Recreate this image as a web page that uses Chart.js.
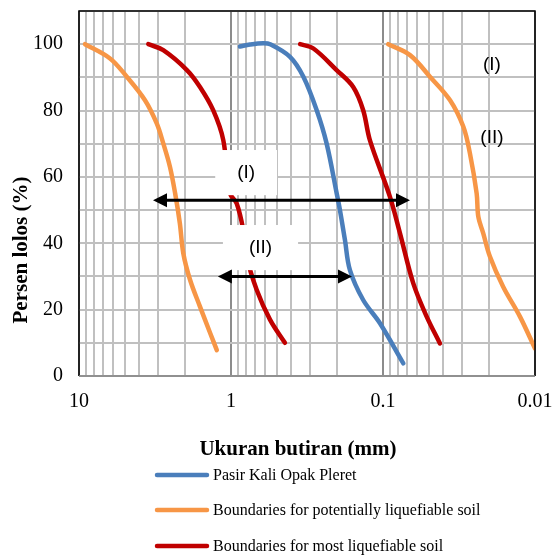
<!DOCTYPE html>
<html>
<head>
<meta charset="utf-8">
<script src="https://cdn.jsdelivr.net/npm/chart.js@4.4.1/dist/chart.umd.min.js"></script>
<style>
  html, body { margin: 0; padding: 0; background: #fff; }
  #wrap { width: 555px; height: 555px; }
</style>
</head>
<body>
<div id="wrap"><canvas id="chart" width="555" height="555"></canvas></div>
<script>
// grain size (mm) vs percent passing
const pasirX = [0.873, 0.75, 0.613, 0.553, 0.409, 0.334, 0.273, 0.235, 0.2016, 0.192, 0.178, 0.165, 0.135, 0.1047, 0.0735];
const pasirY = [99.3, 99.9, 100.3, 100, 96.2, 90.2, 80.1, 70.1, 55, 50, 41, 31.9, 22.9, 15.9, 3.8];

const potLeftX = [9.13, 6.25, 4.85, 3.68, 3.08, 2.79, 2.52, 2.33, 2.17, 2.06, 1.86, 1.6, 1.37, 1.24];
const potLeftY = [100, 95.7, 90.2, 83.1, 76.1, 70.1, 63, 55, 46, 37, 29, 20.9, 12.9, 7.8];
const potRightX = [0.0923, 0.0664, 0.0491, 0.0362, 0.0296, 0.0268, 0.0242, 0.0236, 0.0219, 0.0198, 0.0162, 0.01256, 0.01];
const potRightY = [100, 96.7, 90.2, 83.1, 75.1, 67.1, 55, 48, 43, 36, 26.9, 17.9, 8.3];

const mostLeftX = [3.5, 2.79, 1.95, 1.6, 1.31, 1.124, 1.015, 0.917, 0.83, 0.789, 0.678, 0.554, 0.442];
const mostLeftY = [100, 98.2, 92.2, 87.1, 80.1, 71.1, 55, 52, 44, 36, 26, 17, 10];
const mostRightX = [0.351, 0.287, 0.202, 0.157, 0.135, 0.122, 0.09, 0.0773, 0.0632, 0.0516, 0.0422];
const mostRightY = [100, 98.7, 92.2, 87.1, 80.1, 71.1, 54, 43, 27.9, 17.9, 9.8];

const xMajor = [10, 1, 0.1, 0.01];
const yLabels = [0, 20, 40, 60, 80, 100];

const legendNames = ["Pasir Kali Opak Pleret", "Boundaries for potentially liquefiable soil", "Boundaries for most liquefiable soil"];

// range arrows: [from, to, percent]
const arrowI = [3.26, 0.0664, 53];
const arrowII = [1.22, 0.16, 30];

const BLUE = "#4a7ebb";
const ORANGE = "#f79646";
const RED = "#c00000";

const toPts = (xs, ys) => xs.map((x, i) => ({ x: x, y: ys[i] }));

const xTicks = [];
[0.01, 0.1, 1].forEach((d) => {
  for (let k = 1; k < 10; k++) xTicks.push(+(d * k).toPrecision(3));
});
xTicks.push(10);

function lineSet(label, xs, ys, color) {
  return {
    label: label,
    data: toPts(xs, ys),
    borderColor: color,
    backgroundColor: color,
    borderWidth: 4.5,
    pointRadius: 0,
    tension: 0.35,
    borderCapStyle: "round",
    fill: false,
  };
}

function drawArrow(ctx, x1, x2, y) {
  const head = 14, half = 7;
  const dir = Math.sign(x2 - x1);
  ctx.save();
  ctx.strokeStyle = "#000";
  ctx.fillStyle = "#000";
  ctx.lineWidth = 3;
  ctx.beginPath();
  ctx.moveTo(x1 + dir * head * 0.8, y);
  ctx.lineTo(x2 - dir * head * 0.8, y);
  ctx.stroke();
  [[x1, -dir], [x2, dir]].forEach(([tx, d]) => {
    ctx.beginPath();
    ctx.moveTo(tx, y);
    ctx.lineTo(tx - d * head, y - half);
    ctx.lineTo(tx - d * head, y + half);
    ctx.closePath();
    ctx.fill();
  });
  ctx.restore();
}

const extras = {
  id: "extras",
  afterDatasetsDraw(chart) {
    const { ctx, chartArea: a, scales: { x, y } } = chart;
    ctx.save();

    // white label boxes over the lines
    const boxes = [
      ["(I)", 1.27, 0.498, 68.1, 54.5],
      ["(II)", 1.13, 0.362, 45.5, 31.9],
    ];
    ctx.font = "19px 'Liberation Sans', Arial, sans-serif";
    ctx.textAlign = "center";
    ctx.textBaseline = "middle";
    boxes.forEach(([t, x0, x1, y0, y1]) => {
      const l = x.getPixelForValue(x0), r = x.getPixelForValue(x1);
      const tp = y.getPixelForValue(y0), bt = y.getPixelForValue(y1);
      ctx.fillStyle = "#fff";
      ctx.fillRect(l, tp, r - l, bt - tp);
      ctx.fillStyle = "#000";
      ctx.fillText(t, (l + r) / 2, (tp + bt) / 2);
    });

    drawArrow(ctx, x.getPixelForValue(arrowI[0]), x.getPixelForValue(arrowI[1]), y.getPixelForValue(arrowI[2]));
    drawArrow(ctx, x.getPixelForValue(arrowII[0]), x.getPixelForValue(arrowII[1]), y.getPixelForValue(arrowII[2]));

    ctx.fillStyle = "#000";
    ctx.fillText("(I)", x.getPixelForValue(0.0192), y.getPixelForValue(93.7));
    ctx.fillText("(II)", x.getPixelForValue(0.0192), y.getPixelForValue(71.7));

    // frame
    ctx.strokeStyle = "#000";
    ctx.lineWidth = 1.5;
    ctx.beginPath();
    ctx.moveTo(a.left, a.bottom);
    ctx.lineTo(a.left, a.top);
    ctx.lineTo(a.right, a.top);
    ctx.lineTo(a.right, a.bottom);
    ctx.stroke();
    ctx.strokeStyle = "#808080";
    ctx.beginPath();
    ctx.moveTo(a.left, a.bottom);
    ctx.lineTo(a.right, a.bottom);
    ctx.stroke();

    // axis titles
    ctx.fillStyle = "#000";
    ctx.font = "bold 21px 'Liberation Serif', 'Times New Roman', serif";
    ctx.fillText("Ukuran butiran (mm)", 298, 450);
    ctx.save();
    ctx.translate(22, 250);
    ctx.rotate(-Math.PI / 2);
    ctx.fillText("Persen lolos (%)", 0, 0);
    ctx.restore();

    // legend
    const cols = [BLUE, ORANGE, RED];
    const rows = [476, 511, 547];
    ctx.font = "16px 'Liberation Serif', 'Times New Roman', serif";
    ctx.textAlign = "left";
    ctx.lineCap = "round";
    rows.forEach((ry, i) => {
      ctx.strokeStyle = cols[i];
      ctx.lineWidth = 4.5;
      ctx.beginPath();
      ctx.moveTo(157, ry - 1);
      ctx.lineTo(207, ry - 1);
      ctx.stroke();
      ctx.fillText(legendNames[i], 213, ry);
    });
    ctx.restore();
  },
};

new Chart(document.getElementById("chart"), {
  type: "line",
  data: {
    datasets: [
      lineSet(legendNames[0], pasirX, pasirY, BLUE),
      lineSet(legendNames[1], potLeftX, potLeftY, ORANGE),
      lineSet(legendNames[1], potRightX, potRightY, ORANGE),
      lineSet(legendNames[2], mostLeftX, mostLeftY, RED),
      lineSet(legendNames[2], mostRightX, mostRightY, RED),
    ],
  },
  options: {
    responsive: false,
    devicePixelRatio: 1,
    animation: false,
    layout: { padding: { left: 0, top: 11, right: 20, bottom: 139 } },
    plugins: { legend: { display: false }, tooltip: { enabled: false } },
    scales: {
      x: {
        type: "logarithmic",
        reverse: true,
        min: 0.01,
        max: 10,
        afterBuildTicks: (s) => { s.ticks = xTicks.map((v) => ({ value: v })); },
        afterFit: (s) => { s.height = 40; s.paddingLeft = 0; s.paddingRight = 0; },
        ticks: {
          autoSkip: false,
          maxRotation: 0,
          padding: 14,
          color: "#000",
          font: { family: "'Liberation Serif', 'Times New Roman', serif", size: 20 },
          callback: (v) => (xMajor.includes(v) ? String(v) : ""),
        },
        grid: {
          drawTicks: false,
          lineWidth: 2,
          color: (c) => (c.tick && xMajor.includes(c.tick.value) ? "#8c8c8c" : "#c0c0c0"),
        },
        border: { display: false },
      },
      y: {
        min: 0,
        max: 110,
        afterFit: (s) => { s.width = 79; s.paddingTop = 0; s.paddingBottom = 0; },
        ticks: {
          stepSize: 10,
          padding: 16,
          color: "#000",
          font: { family: "'Liberation Serif', 'Times New Roman', serif", size: 20 },
          callback: (v) => (yLabels.includes(v) ? String(v) : ""),
        },
        grid: { drawTicks: false, lineWidth: 2, color: "#c0c0c0" },
        border: { display: false },
      },
    },
  },
  plugins: [extras],
});
</script>
</body>
</html>
